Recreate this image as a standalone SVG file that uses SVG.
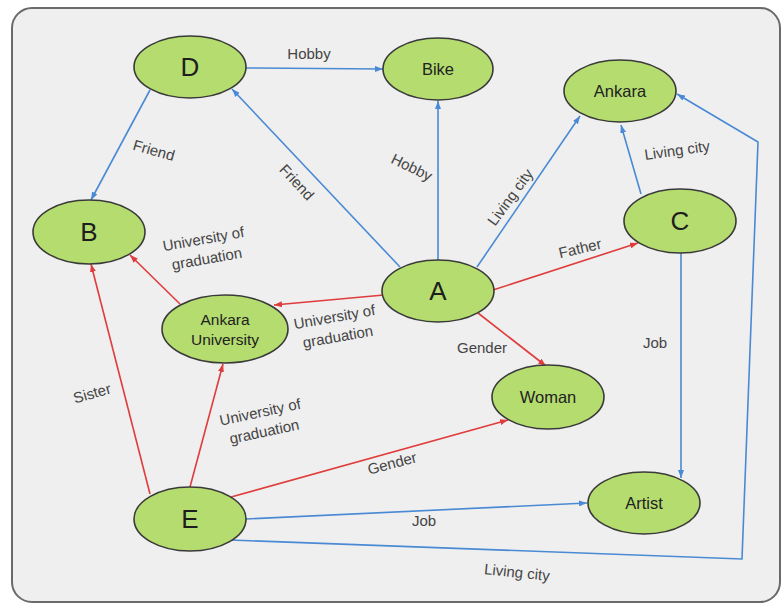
<svg xmlns="http://www.w3.org/2000/svg" width="782" height="605" viewBox="0 0 782 605">
  <style>
    .node ellipse { fill: #b4dc6e; stroke: #3a3a3a; stroke-width: 1.6; }
    .big { font-family: "Liberation Sans", Arial, sans-serif; font-size: 26px; fill: #1e1e1e; text-anchor: middle; dominant-baseline: central; }
    .name { font-family: "Liberation Sans", Arial, sans-serif; font-size: 16.5px; fill: #222; text-anchor: middle; dominant-baseline: central; }
    .lbl { font-family: "Liberation Sans", Arial, sans-serif; font-size: 15px; fill: #444; text-anchor: middle; dominant-baseline: central; }
    .blue { fill: none; stroke: #4a8ad4; stroke-width: 1.6; marker-end: url(#arrowBlue); }
    .red { fill: none; stroke: #e03c3c; stroke-width: 1.6; marker-end: url(#arrowRed); }
  </style>
  <defs>
    <marker id="arrowBlue" viewBox="0 0 8 6" refX="8" refY="3" markerWidth="8" markerHeight="6" markerUnits="userSpaceOnUse" orient="auto">
      <path d="M0,0 L8,3 L0,6 Z" fill="#4a8ad4"/>
    </marker>
    <marker id="arrowRed" viewBox="0 0 8 6" refX="8" refY="3" markerWidth="8" markerHeight="6" markerUnits="userSpaceOnUse" orient="auto">
      <path d="M0,0 L8,3 L0,6 Z" fill="#e03c3c"/>
    </marker>
  </defs>

  <!-- frame -->
  <rect x="12" y="8" width="768" height="594" rx="20" ry="20" fill="#efefef" stroke="#6a6a6a" stroke-width="2"/>

  <!-- connectors -->
  <g id="edges">
    <line class="blue" x1="246" y1="68" x2="383" y2="69"/>
    <line class="blue" x1="150" y1="90" x2="91" y2="200"/>
    <line class="blue" x1="400" y1="267" x2="232" y2="89"/>
    <line class="blue" x1="438" y1="260" x2="438" y2="101"/>
    <line class="blue" x1="477" y1="267" x2="580" y2="116"/>
    <line class="blue" x1="641" y1="194" x2="621" y2="125"/>
    <line class="blue" x1="681" y1="253" x2="681" y2="478"/>
    <line class="blue" x1="246" y1="519" x2="587" y2="503"/>
    <polyline class="blue" points="230,540 742,559 758,142 677,94"/>

    <line class="red" x1="384" y1="295" x2="274" y2="305"/>
    <line class="red" x1="180" y1="304" x2="130" y2="255"/>
    <line class="red" x1="150" y1="494" x2="91" y2="264"/>
    <line class="red" x1="190" y1="487" x2="223" y2="364"/>
    <line class="red" x1="231" y1="497" x2="508" y2="420"/>
    <line class="red" x1="478" y1="313" x2="546" y2="366"/>
    <line class="red" x1="493" y1="290" x2="638" y2="243"/>

    <!-- edge labels -->
    <text class="lbl" x="309" y="53">Hobby</text>
    <text class="lbl" transform="translate(154,150) rotate(16)">Friend</text>
    <text class="lbl" transform="translate(297,182) rotate(47)">Friend</text>
    <text class="lbl" transform="translate(412,167) rotate(26)">Hobby</text>
    <text class="lbl" transform="translate(510,197) rotate(-54)">Living city</text>
    <text class="lbl" transform="translate(677,150) rotate(-8)">Living city</text>
    <text class="lbl" transform="translate(580,248) rotate(-13)">Father</text>
    <text class="lbl" transform="translate(205,248) rotate(-10)"><tspan x="0" y="-10">University of</tspan><tspan x="0" y="10">graduation</tspan></text>
    <text class="lbl" transform="translate(336,326) rotate(-10)"><tspan x="0" y="-10">University of</tspan><tspan x="0" y="10">graduation</tspan></text>
    <text class="lbl" transform="translate(262,421) rotate(-12)"><tspan x="0" y="-10">University of</tspan><tspan x="0" y="10">graduation</tspan></text>
    <text class="lbl" transform="translate(92,393) rotate(-16)">Sister</text>
    <text class="lbl" transform="translate(392,463) rotate(-15)">Gender</text>
    <text class="lbl" x="482" y="347">Gender</text>
    <text class="lbl" x="655" y="342">Job</text>
    <text class="lbl" x="424" y="520">Job</text>
    <text class="lbl" transform="translate(517,572) rotate(6)">Living city</text>
  </g>

  <!-- nodes -->
  <g id="D" class="node"><ellipse cx="190" cy="67" rx="56" ry="31"/><text class="big" x="190" y="67">D</text></g>
  <g id="Bike" class="node"><ellipse cx="438" cy="69" rx="55" ry="31"/><text class="name" x="438" y="69">Bike</text></g>
  <g id="Ankara" class="node"><ellipse cx="620" cy="91" rx="56" ry="31"/><text class="name" x="620" y="91">Ankara</text></g>
  <g id="B" class="node"><ellipse cx="89" cy="232" rx="56" ry="32"/><text class="big" x="89" y="232">B</text></g>
  <g id="C" class="node"><ellipse cx="680" cy="221" rx="56" ry="32"/><text class="big" x="680" y="221">C</text></g>
  <g id="A" class="node"><ellipse cx="438" cy="291" rx="56" ry="31"/><text class="big" x="438" y="291">A</text></g>
  <g id="AnkaraUniversity" class="node"><ellipse cx="225" cy="329" rx="63" ry="34"/><text class="name" style="font-size:15.5px"><tspan x="225" y="319">Ankara</tspan><tspan x="225" y="339">University</tspan></text></g>
  <g id="Woman" class="node"><ellipse cx="548" cy="397" rx="56" ry="32"/><text class="name" x="548" y="397">Woman</text></g>
  <g id="Artist" class="node"><ellipse cx="644" cy="503" rx="56" ry="31"/><text class="name" x="644" y="503">Artist</text></g>
  <g id="E" class="node"><ellipse cx="190" cy="519" rx="56" ry="32"/><text class="big" x="190" y="519">E</text></g>
</svg>
